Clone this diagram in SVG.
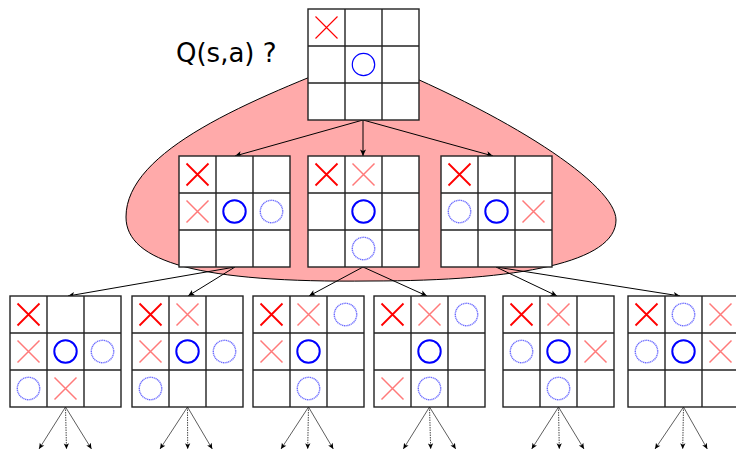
<svg xmlns="http://www.w3.org/2000/svg" xmlns:xlink="http://www.w3.org/1999/xlink" width="736" height="452" viewBox="0 0 736 452">
<style>
.grid rect{fill:#fff;stroke:#222;stroke-width:1.4}
.grid line{stroke:#222;stroke-width:1.4}
.x{fill:none;stroke:#ff0000;stroke-width:1.8}
.xt{fill:none;stroke:#ff0000;stroke-width:1.1}
.fx{fill:none;stroke:#ff4d4d;stroke-opacity:0.75;stroke-width:1.5}
.o{fill:none;stroke:#0000ff;stroke-width:2}
.ot{fill:none;stroke:#0000ff;stroke-width:1.2}
.fo{fill:none;stroke:#3b3bff;stroke-opacity:0.75;stroke-width:1.4;stroke-dasharray:1.2 0.6}
.arr{fill:none;stroke:#000;stroke-width:1;marker-end:url(#ah)}
.sub{fill:none;stroke:#333;stroke-width:0.8;marker-end:url(#ah2)}
.subd{fill:none;stroke:#333;stroke-width:0.9;stroke-dasharray:1.5 1;marker-end:url(#ah2)}
text{font-family:"DejaVu Sans",sans-serif;font-size:26px;fill:#000}
</style>
<defs>
<marker id="ah" viewBox="-7 -4 8 8" refX="0" refY="0" markerWidth="8" markerHeight="8" markerUnits="userSpaceOnUse" orient="auto">
<path d="M0,0 L-6.5,-3 L-5,0 L-6.5,3 z" fill="#000"/>
</marker>
<marker id="ah2" viewBox="-7 -4 8 8" refX="0" refY="0" markerWidth="7" markerHeight="7" markerUnits="userSpaceOnUse" orient="auto">
<path d="M0,0 L-6.5,-3 L-5,0 L-6.5,3 z" fill="#000"/>
</marker>
<g id="grid" class="grid">
<rect x="0" y="0" width="111" height="111"/>
<line x1="37" y1="0" x2="37" y2="111"/>
<line x1="74" y1="0" x2="74" y2="111"/>
<line x1="0" y1="37" x2="111" y2="37"/>
<line x1="0" y1="74" x2="111" y2="74"/>
</g>
<path id="xm" d="M-11,-11 L11,11 M11,-11 L-11,11"/>
<circle id="om" cx="0" cy="0" r="11.2"/>
</defs>

<path id="region" d="M363,56 C250,100 126,150 126,217 C126,262 200,283 370,281 C520,281 616,262 616,220 C616,185 510,115 363,56 Z" fill="#ffaaaa" stroke="#000" stroke-width="1"/>

<g id="connectors">
<line class="arr" x1="363" y1="120" x2="235" y2="156"/>
<line class="arr" x1="363" y1="120" x2="363" y2="156"/>
<line class="arr" x1="363" y1="120" x2="493" y2="156"/>
<line class="arr" x1="235" y1="267" x2="68" y2="296"/>
<line class="arr" x1="235" y1="267" x2="188" y2="296"/>
<line class="arr" x1="363" y1="267" x2="309" y2="296"/>
<line class="arr" x1="363" y1="267" x2="427" y2="296"/>
<line class="arr" x1="496" y1="267" x2="557" y2="296"/>
<line class="arr" x1="496" y1="267" x2="680" y2="296"/>

<line class="sub" x1="65.5" y1="407" x2="39" y2="449"/>
<line class="subd" x1="65.5" y1="407" x2="66.5" y2="449"/>
<line class="sub" x1="65.5" y1="407" x2="91.5" y2="449"/>

<line class="sub" x1="187.5" y1="407" x2="160" y2="449"/>
<line class="subd" x1="187.5" y1="407" x2="187.7" y2="449"/>
<line class="sub" x1="187.5" y1="407" x2="212.3" y2="449"/>

<line class="sub" x1="308.5" y1="407" x2="281" y2="449"/>
<line class="subd" x1="308.5" y1="407" x2="307.7" y2="449"/>
<line class="sub" x1="308.5" y1="407" x2="333.3" y2="449"/>

<line class="sub" x1="429.5" y1="407" x2="403.3" y2="449"/>
<line class="subd" x1="429.5" y1="407" x2="430.7" y2="449"/>
<line class="sub" x1="429.5" y1="407" x2="455.7" y2="449"/>

<line class="sub" x1="558.5" y1="407" x2="531.7" y2="449"/>
<line class="subd" x1="558.5" y1="407" x2="559.3" y2="449"/>
<line class="sub" x1="558.5" y1="407" x2="584" y2="449"/>

<line class="sub" x1="683.5" y1="407" x2="655" y2="449"/>
<line class="subd" x1="683.5" y1="407" x2="682.7" y2="449"/>
<line class="sub" x1="683.5" y1="407" x2="707.3" y2="449"/>
</g>

<text id="label" x="176" y="62">Q(s,a) ?</text>

<g id="board-root" transform="translate(308,9)">
<use xlink:href="#grid"/>
<use xlink:href="#xm" class="xt" x="18.5" y="18.5"/>
<use xlink:href="#om" class="ot" x="55.5" y="55.5"/>
</g>

<g id="board-m1" transform="translate(179,156)">
<use xlink:href="#grid"/>
<use xlink:href="#xm" class="x" x="18.5" y="18.5"/>
<use xlink:href="#xm" class="fx" x="18.5" y="55.5"/>
<use xlink:href="#om" class="o" x="55.5" y="55.5"/>
<use xlink:href="#om" class="fo" x="92.5" y="55.5"/>
</g>

<g id="board-m2" transform="translate(308,156)">
<use xlink:href="#grid"/>
<use xlink:href="#xm" class="x" x="18.5" y="18.5"/>
<use xlink:href="#xm" class="fx" x="55.5" y="18.5"/>
<use xlink:href="#om" class="o" x="55.5" y="55.5"/>
<use xlink:href="#om" class="fo" x="55.5" y="92.5"/>
</g>

<g id="board-m3" transform="translate(441,156)">
<use xlink:href="#grid"/>
<use xlink:href="#xm" class="x" x="18.5" y="18.5"/>
<use xlink:href="#om" class="fo" x="18.5" y="55.5"/>
<use xlink:href="#om" class="o" x="55.5" y="55.5"/>
<use xlink:href="#xm" class="fx" x="92.5" y="55.5"/>
</g>

<g id="board-b1" transform="translate(10,296)">
<use xlink:href="#grid"/>
<use xlink:href="#xm" class="x" x="18.5" y="18.5"/>
<use xlink:href="#xm" class="fx" x="18.5" y="55.5"/>
<use xlink:href="#om" class="o" x="55.5" y="55.5"/>
<use xlink:href="#om" class="fo" x="92.5" y="55.5"/>
<use xlink:href="#om" class="fo" x="18.5" y="92.5"/>
<use xlink:href="#xm" class="fx" x="55.5" y="92.5"/>
</g>

<g id="board-b2" transform="translate(132,296)">
<use xlink:href="#grid"/>
<use xlink:href="#xm" class="x" x="18.5" y="18.5"/>
<use xlink:href="#xm" class="fx" x="55.5" y="18.5"/>
<use xlink:href="#xm" class="fx" x="18.5" y="55.5"/>
<use xlink:href="#om" class="o" x="55.5" y="55.5"/>
<use xlink:href="#om" class="fo" x="92.5" y="55.5"/>
<use xlink:href="#om" class="fo" x="18.5" y="92.5"/>
</g>

<g id="board-b3" transform="translate(253,296)">
<use xlink:href="#grid"/>
<use xlink:href="#xm" class="x" x="18.5" y="18.5"/>
<use xlink:href="#xm" class="fx" x="55.5" y="18.5"/>
<use xlink:href="#om" class="fo" x="92.5" y="18.5"/>
<use xlink:href="#xm" class="fx" x="18.5" y="55.5"/>
<use xlink:href="#om" class="o" x="55.5" y="55.5"/>
<use xlink:href="#om" class="fo" x="55.5" y="92.5"/>
</g>

<g id="board-b4" transform="translate(374,296)">
<use xlink:href="#grid"/>
<use xlink:href="#xm" class="x" x="18.5" y="18.5"/>
<use xlink:href="#xm" class="fx" x="55.5" y="18.5"/>
<use xlink:href="#om" class="fo" x="92.5" y="18.5"/>
<use xlink:href="#om" class="o" x="55.5" y="55.5"/>
<use xlink:href="#xm" class="fx" x="18.5" y="92.5"/>
<use xlink:href="#om" class="fo" x="55.5" y="92.5"/>
</g>

<g id="board-b5" transform="translate(503,296)">
<use xlink:href="#grid"/>
<use xlink:href="#xm" class="x" x="18.5" y="18.5"/>
<use xlink:href="#xm" class="fx" x="55.5" y="18.5"/>
<use xlink:href="#om" class="fo" x="18.5" y="55.5"/>
<use xlink:href="#om" class="o" x="55.5" y="55.5"/>
<use xlink:href="#xm" class="fx" x="92.5" y="55.5"/>
<use xlink:href="#om" class="fo" x="55.5" y="92.5"/>
</g>

<g id="board-b6" transform="translate(628,296)">
<use xlink:href="#grid"/>
<use xlink:href="#xm" class="x" x="18.5" y="18.5"/>
<use xlink:href="#om" class="fo" x="55.5" y="18.5"/>
<use xlink:href="#xm" class="fx" x="92.5" y="18.5"/>
<use xlink:href="#om" class="fo" x="18.5" y="55.5"/>
<use xlink:href="#om" class="o" x="55.5" y="55.5"/>
<use xlink:href="#xm" class="fx" x="92.5" y="55.5"/>
</g>
</svg>
